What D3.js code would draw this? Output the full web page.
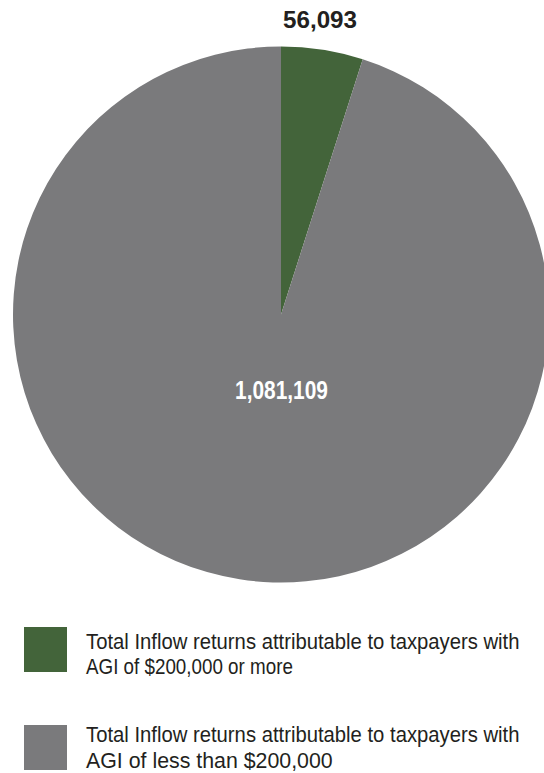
<!DOCTYPE html>
<html><head><meta charset="utf-8">
<script src="https://cdn.jsdelivr.net/npm/d3@7"></script>
<style>html,body{margin:0;padding:0;background:#fff;overflow:hidden;}svg{display:block;}</style>
</head><body>
<script>
const categories = ["Total Inflow returns attributable to taxpayers with AGI of $200,000 or more",
                    "Total Inflow returns attributable to taxpayers with AGI of less than $200,000"];
const values = [56093, 1081109];
const labels = ["56,093", "1,081,109"];
const legendLines = [["Total Inflow returns attributable to taxpayers with", "AGI of $200,000 or more"],
                     ["Total Inflow returns attributable to taxpayers with", "AGI of less than $200,000"]];
const colors = ["#43643a", "#7a7a7c"];

const W = 544, H = 773;
const svg = d3.select("body").append("svg").attr("width", W).attr("height", H);
const cx = 281, cy = 314.5, r = 268;

const pie = d3.pie().sort(null).value(d => d)(values);
const arc = d3.arc().innerRadius(0).outerRadius(r);
const g = svg.append("g").attr("transform", `translate(${cx},${cy})`);
g.selectAll("path").data(pie).join("path")
  .attr("d", arc).attr("fill", (d, i) => colors[i]);

const font = "'Liberation Sans',Arial,sans-serif";

// draws a horizontally condensed text whose rendered width equals target
function condensed(x, y, str, size, weight, fill, anchor, target) {
  const t = svg.append("text").attr("font-family", font).attr("font-size", size)
    .attr("font-weight", weight).attr("fill", fill).attr("text-anchor", anchor).text(str);
  const nat = t.node().getComputedTextLength();
  const s = target / nat;
  t.attr("transform", `translate(${x},${y}) scale(${s},1)`);
  return t;
}

condensed(320, 27.5, labels[0], 23.5, "bold", "#231f20", "middle", 74);
condensed(281.5, 399, labels[1], 26, "bold", "#ffffff", "middle", 93);

// legend
const legendY = [627, 725];
const baselines = [[648.5, 674], [742, 767.5]];
const lineWidths = [[434, 207], [434, 247]];
categories.forEach((c, i) => {
  svg.append("rect").attr("x", 24).attr("y", legendY[i]).attr("width", 43).attr("height", 45)
    .attr("fill", colors[i]);
  legendLines[i].forEach((ln, j) => {
    condensed(86, baselines[i][j], ln, 21.5, "normal", "#231f20", "start", lineWidths[i][j]);
  });
});
</script>
</body></html>
